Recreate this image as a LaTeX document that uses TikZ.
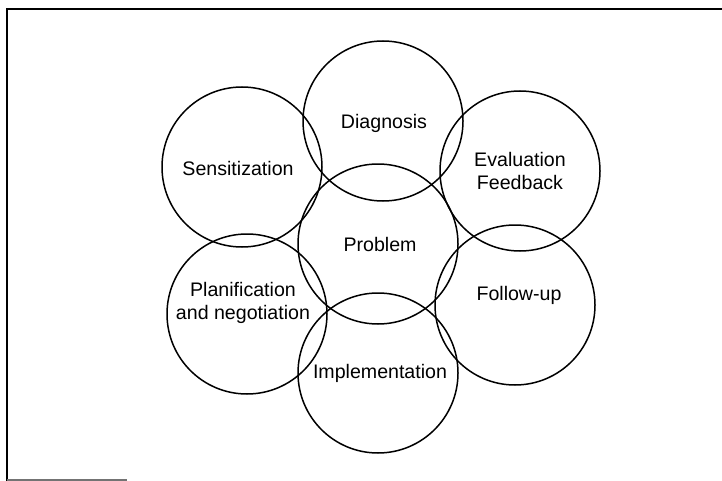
\documentclass[tikz,border=0pt]{standalone}
\usepackage{fontspec}
\setmainfont{Liberation Sans}
\tikzset{
  phase/.style={draw, circle, line width=0.75pt, minimum size=80pt, inner sep=0pt},
  phasetext/.style={align=center, font=\fontsize{9.8}{11.5}\selectfont, inner sep=0pt}
}
\begin{document}
\begin{tikzpicture}[x=0.5pt, y=-0.5pt]
    \useasboundingbox (0,0) rectangle (722,481);
    % frame
    \draw[line width=1pt] (7,481) -- (7,9) -- (722,9);
    \draw[line width=0.6pt, black!55] (7,480) -- (127,480);
    % circles
    \node[phase] (diag) at (383,121) {};
    \node[phase] (sens) at (242,167) {};
    \node[phase] (eval) at (520,171) {};
    \node[phase] (prob) at (378,244) {};
    \node[phase] (plan) at (247,314) {};
    \node[phase] (foll) at (515,305) {};
    \node[phase] (impl) at (378,373) {};
    % labels
    \node[phasetext] (diagt) at (384,123) {Diagnosis};
    \node[phasetext] (senst) at (238,168) {Sensitization};
    \node[phasetext] (evalt) at (520,171) {Evaluation\\Feedback};
    \node[phasetext] (probt) at (380,244) {Problem};
    \node[phasetext] (plant) at (243,303) {Planification\\and negotiation};
    \node[phasetext] (follt) at (519,295) {Follow-up};
    \node[phasetext] (implt) at (380,373) {Implementation};
\end{tikzpicture}
\end{document}
